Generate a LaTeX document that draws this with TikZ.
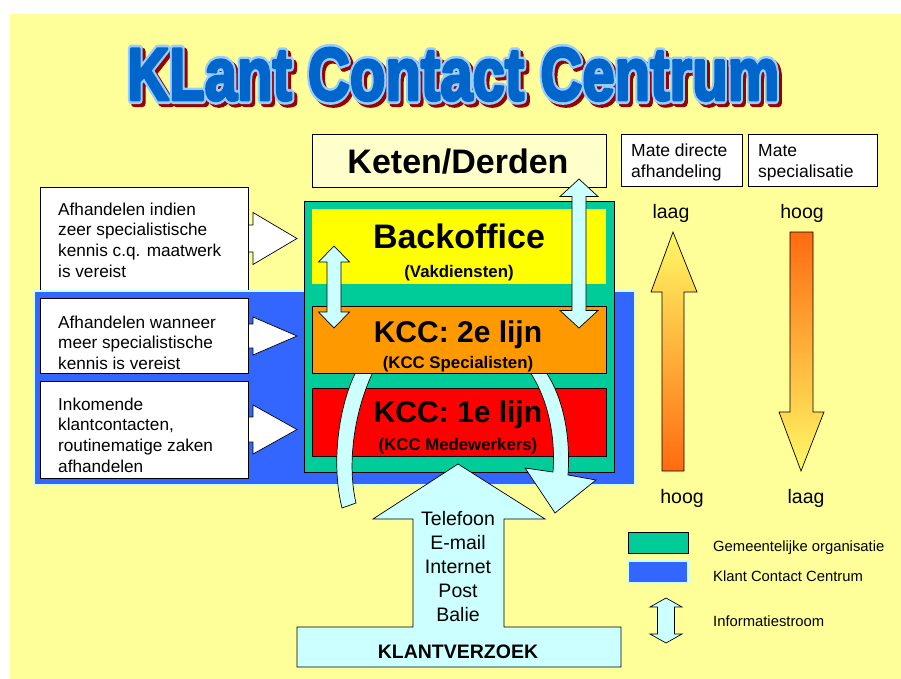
\documentclass[tikz,border=0pt]{standalone}
\usepackage{fontspec}
\setmainfont{Liberation Sans}
\usepackage{graphicx}

\definecolor{bgyellow}{HTML}{FFFF99}
\definecolor{titleblue}{HTML}{0066CC}
\definecolor{titleedge}{HTML}{99CCFF}
\definecolor{titleshadow}{HTML}{990000}
\definecolor{ketenfill}{HTML}{FFFFCC}
\definecolor{gemgreen}{HTML}{00CC99}
\definecolor{kccblue}{HTML}{3366FF}
\definecolor{kccedge}{HTML}{CCFFFF}
\definecolor{flowcyan}{HTML}{CCFFFF}
\definecolor{backyellow}{HTML}{FFFF00}
\definecolor{lijnorange}{HTML}{FF9900}
\definecolor{lijnred}{HTML}{FF0000}
\definecolor{gradyellow}{HTML}{FFFA66}
\definecolor{gradorange}{HTML}{FF6A10}

% vertical double-headed block arrow: centre x, top tip, bottom tip,
% head half-width, shaft half-width, head length
\newcommand\biarrow[6]{%
  \draw[flow] (#1,#2) -- ({#1+#4},{#2+#6}) -- ({#1+#5},{#2+#6}) -- ({#1+#5},{#3-#6})
    -- ({#1+#4},{#3-#6}) -- (#1,#3) -- ({#1-#4},{#3-#6}) -- ({#1-#5},{#3-#6})
    -- ({#1-#5},{#2+#6}) -- ({#1-#4},{#2+#6}) -- cycle;}

% right-pointing block arrow: shaft start x, centre y, shaft half-height,
% head base x, head half-height, tip x
\newcommand\rarrow[6]{%
  \draw[flow, fill=white] (#1,{#2-#3}) -- (#4,{#2-#3}) -- (#4,{#2-#5}) -- (#6,#2)
    -- (#4,{#2+#5}) -- (#4,{#2+#3}) -- (#1,{#2+#3}) -- cycle;}

% title text, filled and stroked in the given RGB colour with the given width
\newcommand\heavytitle[2]{\resizebox{652pt}{52pt}{%
  \special{pdf:literal direct #1 RG #2 w 1 j 2 Tr}%
  \bfseries KLant Contact Centrum%
  \special{pdf:literal direct 0 Tr}}}

\tikzset{
  panel/.style={draw=black, line width=0.8pt, inner sep=0pt, outer sep=0pt},
  flow/.style={draw=black, line width=0.7pt, fill=flowcyan, line join=miter},
  note/.style={anchor=base west, inner sep=0pt, align=left,
    font=\fontsize{17.2}{20.8}\selectfont},
  mate/.style={anchor=base west, inner sep=0pt, align=left,
    font=\fontsize{17.5}{21}\selectfont},
  big/.style={anchor=base, inner sep=0pt, font=\fontsize{34}{40}\selectfont\bfseries},
  mid/.style={anchor=base, inner sep=0pt, font=\fontsize{30}{36}\selectfont\bfseries},
  sub/.style={anchor=base, inner sep=0pt, font=\fontsize{16.8}{20}\selectfont\bfseries},
  levellabel/.style={anchor=base, inner sep=0pt, font=\fontsize{19.5}{24}\selectfont},
  legend/.style={anchor=base west, inner sep=0pt, font=\fontsize{14.8}{18}\selectfont},
}

\begin{document}
\begin{tikzpicture}[x=1pt, y=-1pt]
\useasboundingbox (0,0) rectangle (901,679);
\fill[bgyellow] (10,14) rectangle (901,679);

% title: dark red shadow, light blue rim, heavy blue letters
\node[anchor=base west, inner sep=0pt, text=titleshadow] (titleshadow) at (130,103) {\heavytitle{0.6 0 0}{1.1}};
\node[anchor=base west, inner sep=0pt, text=titleedge] (titlerim) at (127,100) {\heavytitle{0.6 0.8 1}{1.1}};
\node[anchor=base west, inner sep=0pt, text=titleblue] (title) at (127,100) {\heavytitle{0 0.4 0.8}{0.4}};

% top row boxes
\node[panel, fill=ketenfill, minimum width=294pt, minimum height=53pt] (keten) at (459,160.5) {};
\node[big] (ketentxt) at (458,173) {Keten/Derden};
\node[panel, fill=white, minimum width=121pt, minimum height=52pt] (mated) at (681.5,160) {};
\node[mate] (matedtxt) at (631,178) {Mate directe\\afhandeling};
\node[panel, fill=white, minimum width=129pt, minimum height=52pt] (mates) at (812.5,160) {};
\node[mate] (matestxt) at (758,178) {Mate\\specialisatie};

% left explanation: backoffice
\rarrow{240}{238.5}{13.5}{253}{26}{297}
\node[panel, fill=white, minimum width=208pt, minimum height=104pt] (note1) at (144,239) {};
\node[note] (note1txt) at (58,277.4) {Afhandelen indien\\zeer specialistische\\kennis c.q. maatwerk\\is vereist};

% KCC region
\node[panel, draw=kccedge, line width=1.6pt, fill=kccblue, minimum width=601pt, minimum height=194pt] (kcc) at (334.5,388) {};

\rarrow{240}{336}{12}{253}{19}{297}
\node[panel, fill=white, minimum width=208pt, minimum height=75pt] (note2) at (144,335.5) {};
\node[note] (note2txt) at (58,369.6) {Afhandelen wanneer\\meer specialistische\\kennis is vereist};

\rarrow{240}{429.5}{12.5}{253}{24.5}{297}
\node[panel, fill=white, minimum width=208pt, minimum height=97pt] (note3) at (144,429.5) {};
\node[note] (note3txt) at (58,472.4) {Inkomende\\klantcontacten,\\routinematige zaken\\afhandelen};

% municipal organisation
\node[panel, fill=gemgreen, minimum width=310pt, minimum height=271pt] (gem) at (459,336.5) {};
\node[inner sep=0pt, fill=backyellow, minimum width=294pt, minimum height=75pt] (back) at (459,246.5) {};
\node[big] (backtxt) at (459,248) {Backoffice};
\node[sub] (backsub) at (459,277) {(Vakdiensten)};

\node[panel, fill=lijnred, minimum width=294pt, minimum height=68pt] (lijn1) at (459,422) {};
\node[mid] (lijn1txt) at (458,422) {KCC: 1e lijn};
\node[sub] (lijn1sub) at (458,450) {(KCC Medewerkers)};

% escalation and return flows between the lines
\draw[flow] (358,368) .. controls (340,400) and (330,460) .. (342,508)
  -- (356,503) .. controls (346,460) and (356,405) .. (375,368) -- cycle;
\draw[flow] (527,368) .. controls (545,392) and (556,430) .. (553,472)
  -- (525,468) -- (555,513) -- (596,480) -- (568,475)
  .. controls (571,430) and (561,392) .. (543,368) -- cycle;

\node[panel, fill=lijnorange, minimum width=294pt, minimum height=67pt] (lijn2) at (459,339.5) {};
\node[mid] (lijn2txt) at (458,342) {KCC: 2e lijn};
\node[sub] (lijn2sub) at (458,368) {(KCC Specialisten)};

% information flows
\biarrow{334}{246}{328}{15.5}{7}{16}
\biarrow{579}{179}{328}{19}{7}{17.5}

% incoming customer request
\draw[flow] (458,464) -- (545,519) -- (504,519) -- (504,627) -- (621,627) -- (621,667)
  -- (297,667) -- (297,627) -- (413,627) -- (413,519) -- (373,519) -- cycle;
\node[anchor=base, inner sep=0pt, align=center, font=\fontsize{19.5}{24}\selectfont] (kanalen) at (458,621)
  {Telefoon\\E-mail\\Internet\\Post\\Balie};
\node[anchor=base, inner sep=0pt, font=\fontsize{19.5}{22}\selectfont\bfseries] (verzoek) at (458,658) {KLANTVERZOEK};

% scales
\node[levellabel] (laag1) at (671,218) {laag};
\node[levellabel] (hoog1) at (802,218) {hoog};
\node[levellabel] (hoog2) at (682,503) {hoog};
\node[levellabel] (laag2) at (806,503) {laag};
\shadedraw[top color=gradyellow, bottom color=gradorange, draw=black, line width=0.7pt]
  (673,232) -- (697,292) -- (684,292) -- (684,471) -- (662,471) -- (662,292) -- (651,292) -- cycle;
\shadedraw[top color=gradorange, bottom color=gradyellow, draw=black, line width=0.7pt]
  (790,232) -- (813,232) -- (813,412) -- (824,412) -- (801,471) -- (779,412) -- (790,412) -- cycle;

% legend
\node[panel, fill=gemgreen, minimum width=60pt, minimum height=21pt] (leggem) at (658,542.5) {};
\node[legend] (leggemtxt) at (713,551) {Gemeentelijke organisatie};
\node[panel, draw=kccedge, line width=1.2pt, fill=kccblue, minimum width=60pt, minimum height=22pt] (legkcc) at (658,572) {};
\node[legend] (legkcctxt) at (713,581) {Klant Contact Centrum};
\biarrow{666}{598}{643}{16}{8.5}{9}
\node[legend] (leginfo) at (713,626) {Informatiestroom};
\end{tikzpicture}
\end{document}
